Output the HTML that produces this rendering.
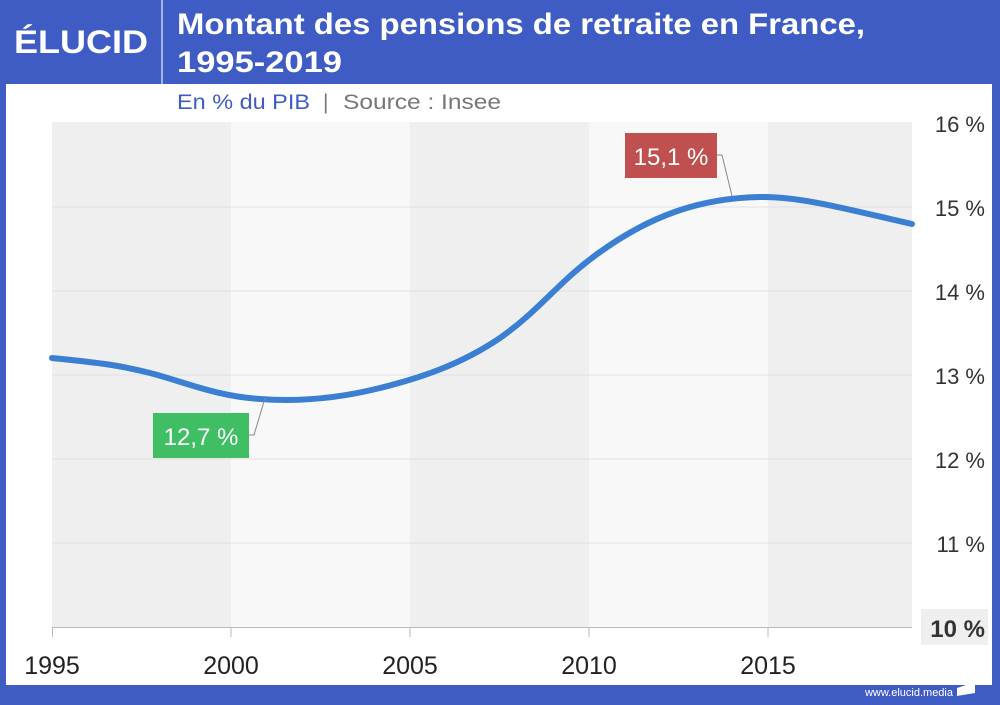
<!DOCTYPE html>
<html><head><meta charset="utf-8"><style>
html,body{margin:0;padding:0;}
body{width:1000px;height:700px;overflow:hidden;background:#3f5cc5;font-family:"Liberation Sans",sans-serif;}
</style></head><body>
<svg width="1000" height="700" viewBox="0 0 1000 700" xmlns="http://www.w3.org/2000/svg" font-family="Liberation Sans, sans-serif">
<rect x="0" y="0" width="1000" height="700" fill="#3f5cc5"/>
<rect x="6" y="84" width="986" height="601" fill="#ffffff"/>
<line x1="162" y1="0" x2="162" y2="84" stroke="#c8d0ee" stroke-width="1.5"/>
<text x="14" y="53" font-size="32" font-weight="bold" fill="#fff" textLength="134" lengthAdjust="spacingAndGlyphs">ÉLUCID</text>
<text x="177" y="34" font-size="30" font-weight="bold" fill="#fff" textLength="688" lengthAdjust="spacingAndGlyphs">Montant des pensions de retraite en France,</text>
<text x="177" y="72" font-size="30" font-weight="bold" fill="#fff" textLength="165" lengthAdjust="spacingAndGlyphs">1995-2019</text>
<text x="177" y="109" font-size="21" fill="#3f5cc5" textLength="133" lengthAdjust="spacingAndGlyphs">En % du PIB</text>
<text x="323" y="109" font-size="21" fill="#777">|</text>
<text x="343" y="109" font-size="21" fill="#777" textLength="158" lengthAdjust="spacingAndGlyphs">Source : Insee</text>
<!-- bands -->
<rect x="52" y="122" width="179" height="506" fill="#efefef"/>
<rect x="231" y="122" width="179" height="506" fill="#f8f8f8"/>
<rect x="410" y="122" width="179" height="506" fill="#efefef"/>
<rect x="589" y="122" width="179" height="506" fill="#f8f8f8"/>
<rect x="768" y="122" width="144" height="506" fill="#efefef"/>
<g stroke="#e2e2e2" stroke-width="1">
<line x1="52" y1="207" x2="912" y2="207"/>
<line x1="52" y1="291" x2="912" y2="291"/>
<line x1="52" y1="375" x2="912" y2="375"/>
<line x1="52" y1="459" x2="912" y2="459"/>
<line x1="52" y1="543" x2="912" y2="543"/>
</g>
<g stroke="#bbb" stroke-width="1">
<line x1="52" y1="627.5" x2="912" y2="627.5"/>
<line x1="52.5" y1="627" x2="52.5" y2="637"/>
<line x1="231" y1="627" x2="231" y2="637"/>
<line x1="410" y1="627" x2="410" y2="637"/>
<line x1="589" y1="627" x2="589" y2="637"/>
<line x1="768" y1="627" x2="768" y2="637"/>
</g>
<g font-size="25" fill="#222" text-anchor="middle">
<text x="52" y="674">1995</text>
<text x="231" y="674">2000</text>
<text x="410" y="674">2005</text>
<text x="589" y="674">2010</text>
<text x="768" y="674">2015</text>
</g>
<g font-size="22" fill="#333" text-anchor="end">
<text x="985" y="132">16 %</text>
<text x="985" y="216">15 %</text>
<text x="985" y="300">14 %</text>
<text x="985" y="384">13 %</text>
<text x="985" y="468">12 %</text>
<text x="985" y="552">11 %</text>
</g>
<rect x="921" y="609" width="67" height="36" fill="#efefef"/>
<text x="985" y="637" font-size="24" font-weight="bold" fill="#333" text-anchor="end">10 %</text>
<!-- line -->
<path d="M52,358 C90,362 115,364 150,373 C185,382 215,396 260,399 C300,402 340,398 380,388 C420,378 460,365 500,338 C540,310 560,280 600,252 C650,216 700,198 760,197 C800,196 850,210 912,224" fill="none" stroke="#3a7fd2" stroke-width="6" stroke-linecap="round"/>
<!-- annotations -->
<polyline points="249,435 254,435 265,398" fill="none" stroke="#888" stroke-width="1"/>
<rect x="153" y="413" width="96" height="45" fill="#3fbe63"/>
<text x="201" y="445" font-size="24" fill="#fff" text-anchor="middle">12,7 %</text>
<polyline points="717,155 722,155 732,196" fill="none" stroke="#888" stroke-width="1"/>
<rect x="625" y="133" width="92" height="45" fill="#c0504f"/>
<text x="671" y="165" font-size="24" fill="#fff" text-anchor="middle">15,1 %</text>
<text x="953" y="696" font-size="11" fill="#fff" text-anchor="end">www.elucid.media</text>
<polygon points="957,688 975,682 975,693 957,696" fill="#fff"/>
</svg>
</body></html>
